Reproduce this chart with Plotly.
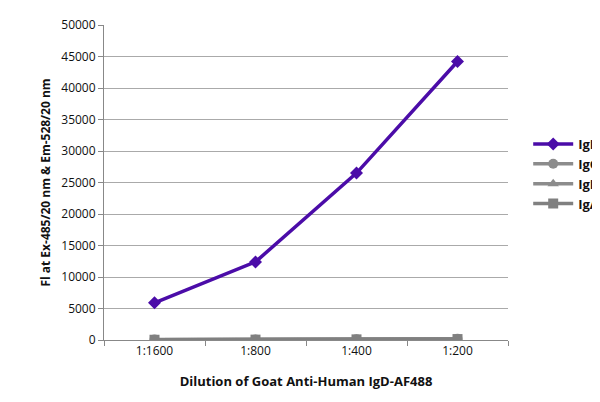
import plotly.graph_objects as go

dilutions = ["1:1600", "1:800", "1:400", "1:200"]
igd = [5900, 12400, 26500, 44200]
igg = [60, 80, 120, 180]
igm = [50, 70, 110, 160]
iga = [40, 60, 100, 150]

fig = go.Figure()
series = [
    ("IgD", igd, "#4B0CA8", "diamond", 10),
    ("IgG", igg, "#8C8C8C", "circle", 10),
    ("IgM", igm, "#8C8C8C", "triangle-up", 10),
    ("IgA", iga, "#808080", "square", 10),
]
for name, vals, col, sym, sz in series:
    fig.add_trace(go.Scatter(x=dilutions, y=vals, name=name, mode="lines+markers",
                             line=dict(color=col, width=3.5),
                             marker=dict(symbol=sym, size=sz, color=col)))

fig.update_layout(
    width=600, height=402, paper_bgcolor="white", plot_bgcolor="white",
    margin=dict(l=96, r=100, t=17, b=70, autoexpand=False),
    font=dict(family="Open Sans, Lato, sans-serif", size=12, color="#111"),
    legend=dict(x=1.05, y=0.67, xanchor="left", yanchor="top",
                font=dict(size=13, family="Open Sans, sans-serif", weight="bold"),
                tracegroupgap=4, itemwidth=40),
)
fig.update_xaxes(type="category", range=[-0.5, 3.5], tickson="boundaries",
                 ticks="outside", ticklen=5, tickcolor="#888", automargin=False,
                 showline=True, linecolor="#888", showgrid=False,
                 title=dict(text="<b>Dilution of Goat Anti-Human IgD-AF488</b>", font=dict(size=13), standoff=18))
fig.update_yaxes(range=[0, 50000], dtick=5000, tickformat="d", showgrid=True, gridcolor="#aaa",
                 showline=True, linecolor="#888", ticks="outside", ticklen=5, tickcolor="#888",
                 zeroline=False, automargin=False,
                 title=dict(text="<b>Fl at Ex-485/20 nm & Em-528/20 nm</b>", font=dict(size=12), standoff=8))

fig.write_html("out.html")
